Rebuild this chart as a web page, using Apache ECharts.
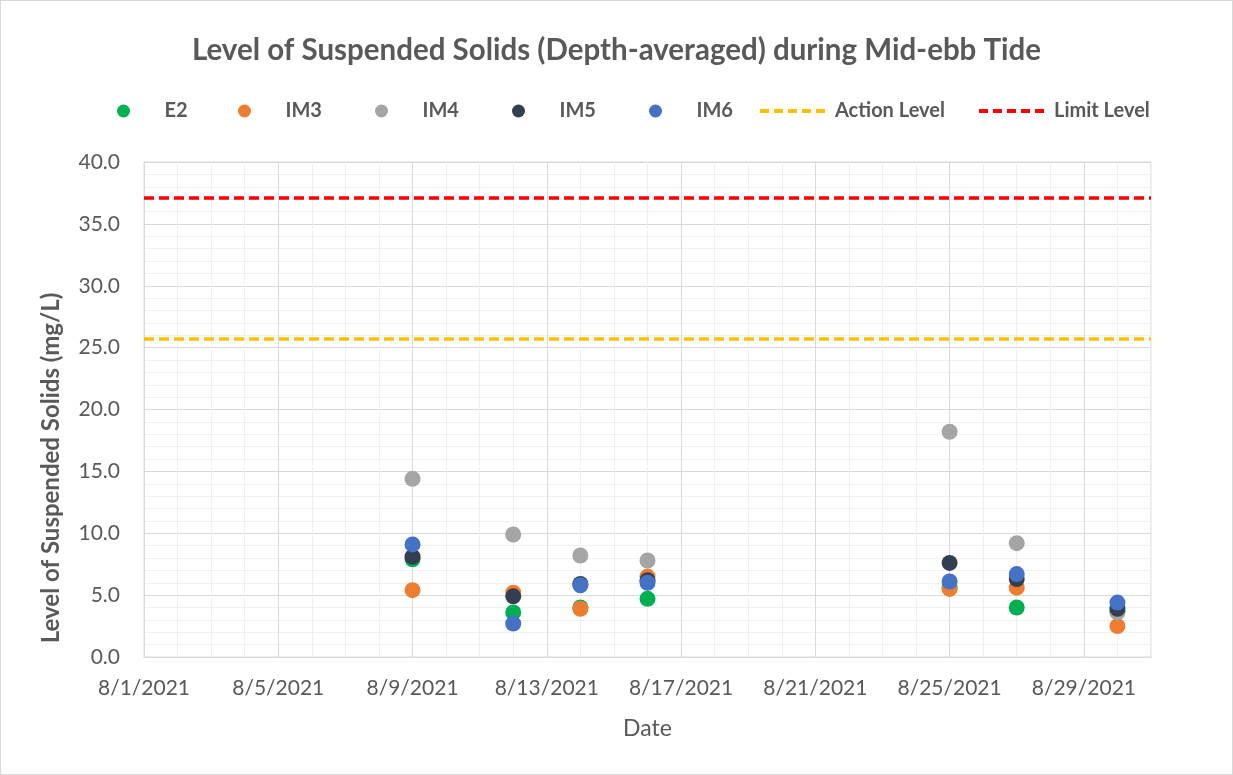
<!DOCTYPE html>
<html>
<head>
<meta charset="utf-8">
<title>Level of Suspended Solids</title>
<script src="https://cdn.jsdelivr.net/npm/echarts@6/dist/echarts.min.js"></script>
<style>
  html, body { margin: 0; padding: 0; background: #fff; }
  #chart { width: 1233px; height: 775px; box-sizing: border-box; border: 1px solid #d9d9d9; }
</style>
</head>
<body>
<div id="chart"></div>
<script>
// sampling dates (mid-ebb tide)
const dates = ['8/9/2021', '8/12/2021', '8/14/2021', '8/16/2021', '8/25/2021', '8/27/2021', '8/30/2021'];

// depth-averaged suspended solids, mg/L
const e2  = [7.9, 3.6, 4.0, 4.7, 5.6, 4.0, 3.7];
const im3 = [5.4, 5.2, 3.9, 6.5, 5.5, 5.6, 2.5];
const im4 = [14.4, 9.9, 8.2, 7.8, 18.2, 9.2, 3.6];
const im5 = [8.1, 4.9, 5.9, 6.2, 7.6, 6.3, 3.9];
const im6 = [9.1, 2.7, 5.8, 6.0, 6.1, 6.7, 4.4];

const actionLevel = 25.7;
const limitLevel = 37.1;

// axis range
const startDate = '8/1/2021';
const endDate = '8/31/2021';

const DAY = 86400000;
const t0 = new Date(startDate).getTime();
const dayOf = s => Math.round((new Date(s).getTime() - t0) / DAY);
const xMax = dayOf(endDate);

const fmtDate = v => {
  const d = new Date(t0 + v * DAY);
  return (d.getMonth() + 1) + '/' + d.getDate() + '/' + d.getFullYear();
};

const FONT = 'Lato, "Open Sans", sans-serif';
const TXT = '#595959';

const stations = [
  { name: 'E2', data: e2, color: '#00B050', legendX: 123 },
  { name: 'IM3', data: im3, color: '#ED7D31', legendX: 244 },
  { name: 'IM4', data: im4, color: '#A5A5A5', legendX: 381 },
  { name: 'IM5', data: im5, color: '#333F50', legendX: 518 },
  { name: 'IM6', data: im6, color: '#4472C4', legendX: 655 }
];

const levels = [
  { name: 'Action Level', value: actionLevel, color: '#FFC000', legendX: 752 },
  { name: 'Limit Level', value: limitLevel, color: '#FF0000', legendX: 971 }
];

const legendText = { fontFamily: FONT, fontWeight: 'bold', fontSize: 20, color: TXT };

const legends = stations.map(s => ({
  data: [s.name],
  left: s.legendX - 12,
  top: 95,
  itemWidth: 72,
  itemHeight: 13,
  icon: 'circle',
  selectedMode: false,
  textStyle: legendText
})).concat(levels.map(l => ({
  data: [l.name],
  left: l.legendX,
  top: 95,
  itemWidth: 70,
  itemHeight: 14,
  selectedMode: false,
  itemStyle: { opacity: 0 },
  lineStyle: { width: 4, type: [9, 5] },
  textStyle: legendText
})));

const series = stations.map(s => ({
  name: s.name,
  type: 'scatter',
  symbol: 'circle',
  symbolSize: 16,
  itemStyle: { color: s.color, opacity: 1 },
  data: dates.map((d, i) => [dayOf(d), s.data[i]])
})).concat(levels.map(l => ({
  name: l.name,
  type: 'line',
  symbol: 'none',
  showSymbol: false,
  itemStyle: { color: l.color },
  lineStyle: { color: l.color, width: 3.5, type: [10, 5] },
  data: [[0, l.value], [xMax, l.value]]
})));

const chart = echarts.init(document.getElementById('chart'));
chart.setOption({
  animation: false,
  backgroundColor: '#fff',
  title: {
    text: 'Level of Suspended Solids (Depth-averaged) during Mid-ebb Tide',
    left: 'center',
    top: 29,
    textStyle: { fontFamily: FONT, fontWeight: 'bold', fontSize: 29.5, color: TXT }
  },
  legend: legends,
  grid: {
    left: 143, right: 81, top: 161, bottom: 117,
    show: true, borderColor: '#d9d9d9', borderWidth: 1
  },
  xAxis: {
    type: 'value',
    min: 0,
    max: xMax,
    interval: 1,
    name: 'Date',
    nameLocation: 'middle',
    nameGap: 60,
    nameTextStyle: { fontFamily: FONT, fontSize: 23, color: TXT },
    axisLine: { show: true, lineStyle: { color: '#d9d9d9' } },
    axisTick: { show: false },
    axisLabel: {
      margin: 21,
      fontFamily: FONT, fontSize: 21, color: TXT,
      showMaxLabel: false,
      formatter: v => (v % 4 === 0 ? fmtDate(v) : '')
    },
    splitLine: {
      show: true,
      lineStyle: { color: ['#d9d9d9', '#f0f0f0', '#f0f0f0', '#f0f0f0'], width: 1 }
    }
  },
  yAxis: {
    type: 'value',
    min: 0,
    max: 40,
    interval: 5,
    axisLine: { show: false },
    axisTick: { show: false },
    axisLabel: {
      margin: 24,
      fontFamily: FONT, fontSize: 21, color: TXT,
      formatter: v => v.toFixed(1)
    },
    splitLine: { lineStyle: { color: '#d9d9d9' } },
    minorTick: { show: false, splitNumber: 5 },
    minorSplitLine: { show: true, lineStyle: { color: '#f0f0f0' } }
  },
  graphic: [{
    type: 'text',
    x: 50,
    y: 467,
    rotation: Math.PI / 2,
    style: {
      text: 'Level of Suspended Solids (mg/L)',
      font: 'bold 24px ' + FONT,
      fill: TXT,
      textAlign: 'center',
      textVerticalAlign: 'middle'
    }
  }],
  series: series
});
</script>
</body>
</html>
